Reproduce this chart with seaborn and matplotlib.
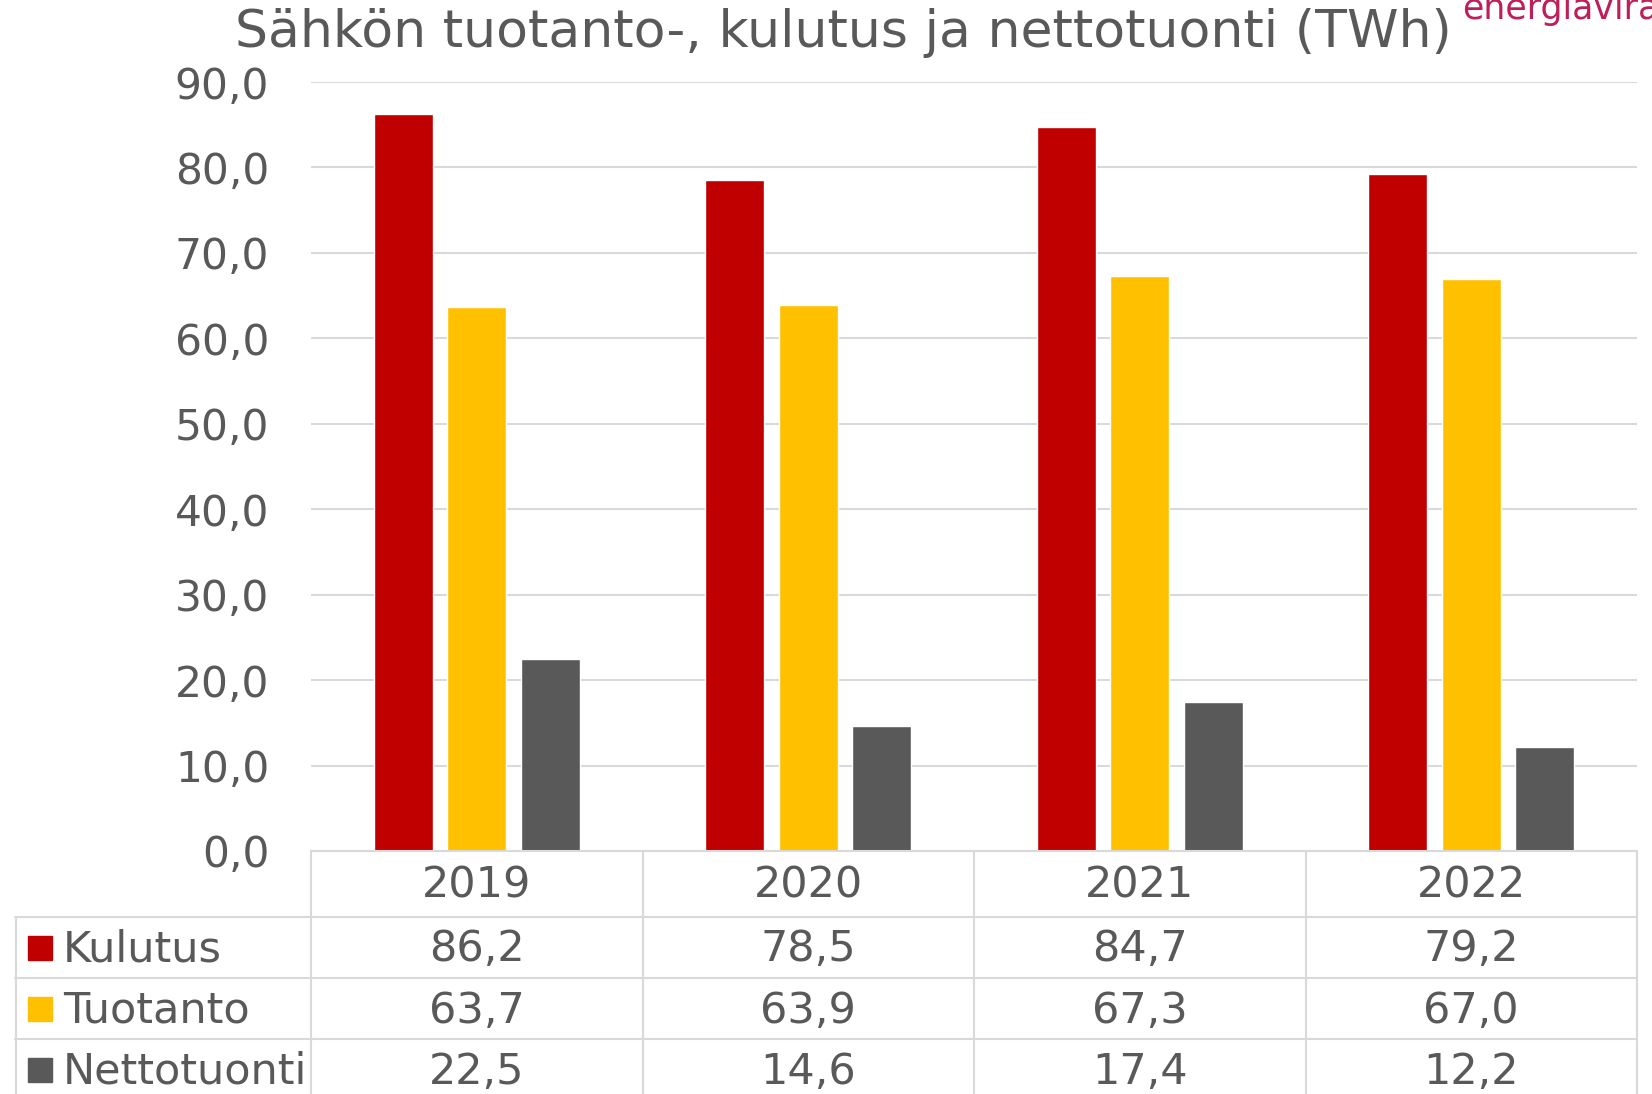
import numpy as np
import pandas as pd
import seaborn as sns
import matplotlib.pyplot as plt
from matplotlib.patches import Rectangle

# data
years = ['2019', '2020', '2021', '2022']
series = ['Kulutus', 'Tuotanto', 'Nettotuonti']
kulutus = [86.2, 78.5, 84.7, 79.2]
tuotanto = [63.7, 63.9, 67.3, 67.0]
nettotuonti = [22.5, 14.6, 17.4, 12.2]
colors = ['#C00000', '#FFC000', '#595959']

TEXT = '#595959'
GRID = '#D9D9D9'
W, H = 1652, 1094

df = pd.DataFrame({
    'vuosi': years * 3,
    'sarja': np.repeat(series, len(years)),
    'TWh': kulutus + tuotanto + nettotuonti,
})

sns.set_style('white')
plt.rcParams['font.family'] = ['DejaVu Sans']

fig = plt.figure(figsize=(W / 100, H / 100), dpi=100)

# main plot area (pixel layout)
left, right, top, bottom = 311, 1637, 82, 851
ax = fig.add_axes([left / W, 1 - bottom / H, (right - left) / W, (bottom - top) / H])

sns.barplot(data=df, x='vuosi', y='TWh', hue='sarja', order=years, hue_order=series,
            palette=colors, width=0.667, gap=0.2, saturation=1, ax=ax, legend=False)

ax.set_xlim(-0.5, 3.5)
ax.set_ylim(0, 90)
ax.set_yticks(np.arange(0, 91, 10))
ax.set_yticklabels([f'{v:.1f}'.replace('.', ',') for v in np.arange(0, 91, 10)])
ax.tick_params(axis='y', length=0, pad=30, labelsize=30.5, labelcolor=TEXT)
ax.set_xticks([])
ax.set_xlabel('')
ax.set_ylabel('')
ax.grid(axis='y', color=GRID, linewidth=1.5)
ax.set_axisbelow(True)
for s in ax.spines.values():
    s.set_visible(False)

# data table under the chart
px_per_cat = (right - left) / 4
tab_left = 15
tab = fig.add_axes([tab_left / W, 0, (right - tab_left) / W, (H - bottom) / H])
tab.set_xlim(-0.5 - (left - tab_left) / px_per_cat, 3.5)
tab.set_ylim(H, bottom)
tab.axis('off')

row_edges = [851, 917, 978, 1039, 1100]
lab_x = tab.get_xlim()[0]
lw = 1.5
fs = 31
# horizontal lines
tab.plot([-0.5, 3.5], [row_edges[0]] * 2, color=GRID, lw=lw, clip_on=False)
for y in row_edges[1:4]:
    tab.plot([lab_x, 3.5], [y, y], color=GRID, lw=lw, clip_on=False)
# vertical lines
for i in range(5):
    tab.plot([i - 0.5] * 2, [row_edges[0], H], color=GRID, lw=lw, clip_on=False)
tab.plot([lab_x + 0.003] * 2, [row_edges[1], H], color=GRID, lw=lw, clip_on=False)

# header
for i, yr in enumerate(years):
    tab.text(i, (row_edges[0] + row_edges[1]) / 2 + 2, yr, ha='center', va='center',
             fontsize=fs, color=TEXT)

values = [kulutus, tuotanto, nettotuonti]
for r, (name, vals, c) in enumerate(zip(series, values, colors)):
    yc = (row_edges[r + 1] + row_edges[r + 2]) / 2
    if r == 2:
        yc = 1070
    sq = 24
    tab.add_patch(Rectangle((lab_x + 13 / px_per_cat, yc - sq / 2), sq / px_per_cat, sq,
                            color=c, clip_on=False))
    tab.text(lab_x + 48 / px_per_cat, yc + 2, name, ha='left', va='center',
             fontsize=fs, color=TEXT)
    for i, v in enumerate(vals):
        tab.text(i, yc + 2, f'{v:.1f}'.replace('.', ','), ha='center', va='center',
                 fontsize=fs, color=TEXT)

# titles
fig.text(843 / W, 1 - 47 / H, 'Sähkön tuotanto-, kulutus ja nettotuonti (TWh)',
         ha='center', va='baseline', fontsize=37.5, color=TEXT)
fig.text(1462 / W, 1 - 19 / H, 'energiavirasto', ha='left', va='baseline',
         fontsize=25, color='#BE1E5A')

fig.savefig('out.png', dpi=100)
